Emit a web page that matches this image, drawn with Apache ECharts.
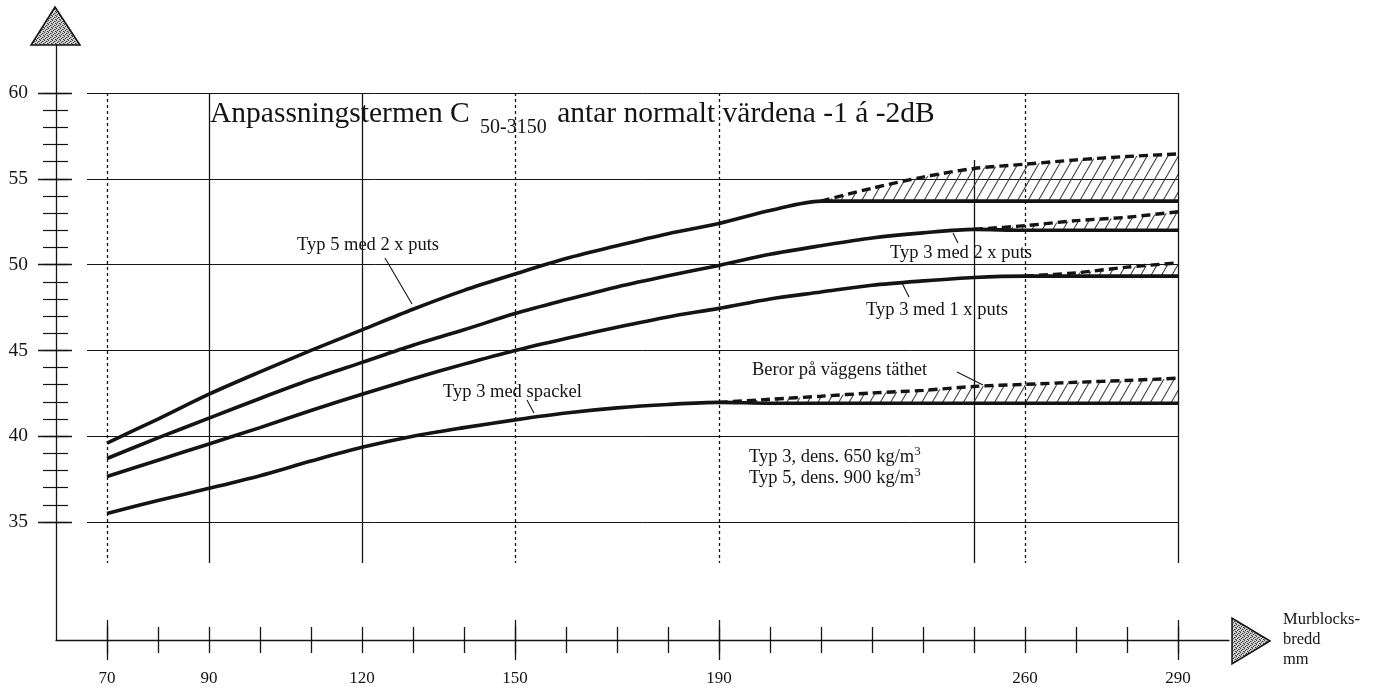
<!DOCTYPE html>
<html>
<head>
<meta charset="utf-8">
<script src="https://cdn.jsdelivr.net/npm/echarts@6/dist/echarts.min.js"></script>
<style>
    html, body { margin: 0; padding: 0; background: #fff; }
    #myEchartNode { width: 1388px; height: 689px; }
</style>
</head>
<body>
<div id="myEchartNode"></div>
<script>
; (function () {

    // murblockens bredd (mm) vid varje skalstreck, skalan hoppar mellan 240 och 260
    var widths = ['70', '80', '90', '100', '110', '120', '130', '140', '150', '160', '170',
        '180', '190', '200', '210', '220', '230', '240', '260', '270', '280', '290'];
    var axisWidths = [''].concat(widths, [' ']);
    var labelledWidths = ['70', '90', '120', '150', '190', '260', '290'];
    var solidGridWidths = ['90', '120', '290'];
    var dottedGridWidths = ['70', '150', '190', '260'];
    var shortGridWidths = ['240'];
    var longTickWidths = ['70', '150', '190', '290'];

    // dB-skalan
    var dbTicks = [35, 36, 37, 38, 39, 40, 41, 42, 43, 44, 45, 46, 47, 48, 49, 50,
        51, 52, 53, 54, 55, 56, 57, 58, 59, 60];
    var dbLabels = [35, 40, 45, 50, 55, 60];

    // kurvorna (heldragen = undre värde, streckad = övre värde)
    var typ5Puts2 = [39.6, 41.0, 42.45, 43.75, 45.0, 46.2, 47.4, 48.5, 49.45, 50.35, 51.1,
        51.8, 52.4, 53.15, 53.7, 53.7, 53.7, 53.7, 53.7, 53.7, 53.7, 53.7];
    var typ5Puts2Max = [null, null, null, null, null, null, null, null, null, null, null,
        null, null, null, 53.7, 54.45, 55.1, 55.6, 55.85, 56.1, 56.3, 56.45];
    var typ3Puts2 = [38.7, 39.9, 41.05, 42.2, 43.3, 44.3, 45.3, 46.2, 47.15, 47.95, 48.7,
        49.35, 49.95, 50.6, 51.1, 51.55, 51.85, 52.05, 52.0, 52.0, 52.0, 52.0];
    var typ3Puts2Max = [null, null, null, null, null, null, null, null, null, null, null,
        null, null, null, null, null, null, 52.05, 52.27, 52.56, 52.76, 53.08];
    var typ3Puts1 = [37.65, 38.6, 39.55, 40.5, 41.5, 42.44, 43.35, 44.2, 45.0, 45.7, 46.35,
        46.95, 47.45, 48.0, 48.4, 48.8, 49.05, 49.25, 49.33, 49.33, 49.33, 49.33];
    var typ3Puts1Max = [null, null, null, null, null, null, null, null, null, null, null,
        null, null, null, null, null, null, null, 49.33, 49.52, 49.85, 50.1];
    var typ3Spackel = [35.5, 36.25, 36.96, 37.7, 38.55, 39.35, 40.0, 40.5, 40.95, 41.35, 41.65,
        41.85, 41.97, 41.92, 41.92, 41.92, 41.92, 41.92, 41.92, 41.92, 41.92, 41.92];
    var typ3SpackelMax = [null, null, null, null, null, null, null, null, null, null, null,
        null, 41.97, 42.15, 42.33, 42.52, 42.67, 42.9, 43.02, 43.14, 43.25, 43.38];

    var serif = '"Liberation Serif", "DejaVu Serif", serif';
    var ink = '#141414';

    // prickig fyllning för pilarna
    var dots = document.createElement('canvas');
    dots.width = 4;
    dots.height = 4;
    var g = dots.getContext('2d');
    g.fillStyle = '#cfcfcf';
    g.fillRect(0, 0, 4, 4);
    g.fillStyle = '#3a3a3a';
    g.fillRect(0, 0, 1, 1);
    g.fillRect(2, 1, 1, 1);
    g.fillRect(1, 2, 1, 1);
    g.fillRect(3, 3, 1, 1);
    g.fillStyle = '#888';
    g.fillRect(3, 1, 1, 1);
    g.fillRect(0, 3, 1, 1);
    var dotFill = { type: 'pattern', image: dots, repeat: 'repeat' };

    function pick(list) {
        return function (idx, value) {
            return list.indexOf(value) !== -1;
        };
    }

    // skillnaden mellan övre och undre kurva, för staplingen
    function spread(upper, lower) {
        return upper.map(function (v, i) {
            return v === null ? null : +(v - lower[i]).toFixed(3);
        });
    }

    function gridAxis(list, offset, length, type) {
        return {
            gridIndex: 0,
            type: 'category',
            data: widths,
            boundaryGap: false,
            position: 'top',
            offset: offset,
            axisLine: { show: false },
            axisLabel: { show: false },
            splitLine: { show: false },
            axisTick: {
                show: true,
                inside: true,
                length: length,
                interval: pick(list),
                lineStyle: { color: ink, width: 1.3, type: type }
            }
        };
    }

    function tickAxis(values, offset, length, width) {
        return {
            gridIndex: 1,
            type: 'value',
            position: 'left',
            min: 28.12,
            max: 62.8,
            offset: offset,
            axisLine: { show: false },
            axisLabel: { show: false },
            splitLine: { show: false },
            axisTick: { show: true, customValues: values, length: length, lineStyle: { color: ink, width: width } }
        };
    }

    function curve(name, lower, upper) {
        return [
            {
                name: name,
                type: 'line',
                stack: name,
                data: lower,
                smooth: 0.3,
                symbol: 'none',
                z: 4,
                lineStyle: { color: ink, width: 3.6 }
            },
            {
                name: name + ' max',
                type: 'line',
                stack: name,
                data: spread(upper, lower),
                smooth: 0.3,
                symbol: 'none',
                z: 3,
                lineStyle: { color: ink, width: 3.4, type: [9, 5] },
                itemStyle: {
                    color: ink,
                    decal: {
                        symbol: 'rect',
                        symbolSize: 1,
                        color: '#333',
                        dashArrayX: [1, 0],
                        dashArrayY: [1, 8],
                        rotation: -Math.PI / 3
                    }
                },
                areaStyle: { color: 'rgba(255,255,255,0)', opacity: 1 }
            }
        ];
    }

    function note(text, x, y) {
        return {
            type: 'text',
            silent: true,
            style: {
                text: text,
                x: x,
                y: y,
                fill: ink,
                font: '18.5px ' + serif,
                verticalAlign: 'middle',
                rich: {
                    sup: { fontSize: 13, fontFamily: serif, fill: ink, padding: [0, 0, 10, 0] }
                }
            }
        };
    }

    function leader(x1, y1, x2, y2) {
        return {
            type: 'line',
            silent: true,
            shape: { x1: x1, y1: y1, x2: x2, y2: y2 },
            style: { stroke: ink, lineWidth: 1.1 }
        };
    }

    var myEchartObj = echarts.init(document.getElementById('myEchartNode'));
    var option = {
        backgroundColor: '#fff',
        animation: false,
        title: {
            text: '{a|Anpassningstermen C }{s|50-3150}{a| antar normalt värdena -1 á -2dB}',
            left: 205,
            top: 91,
            textStyle: {
                fontWeight: 'normal',
                rich: {
                    a: { fontSize: 29.5, fontFamily: serif, fontWeight: 'normal', color: ink, lineHeight: 36 },
                    s: { fontSize: 20, fontFamily: serif, fontWeight: 'normal', color: ink, lineHeight: 36, padding: [28, 3, 0, 3] }
                }
            }
        },
        grid: [
            { left: 107, right: 210, top: 93, bottom: 167 },
            { left: 56, right: 159, top: 45, bottom: 49 }
        ],
        xAxis: [
            { gridIndex: 0, type: 'category', data: widths, boundaryGap: false, show: false },
            gridAxis(solidGridWidths, 0, 470, 'solid'),
            gridAxis(dottedGridWidths, 0, 470, [3, 3]),
            gridAxis(shortGridWidths, -67, 403, 'solid'),
            {
                gridIndex: 1,
                type: 'category',
                data: axisWidths,
                boundaryGap: false,
                position: 'bottom',
                axisLine: { show: true, lineStyle: { color: ink, width: 1.3 } },
                axisTick: { show: false },
                splitLine: { show: false },
                axisLabel: {
                    interval: pick(labelledWidths),
                    margin: 30,
                    fontSize: 17,
                    fontFamily: serif,
                    color: ink
                },
                name: 'Murblocks-\nbredd\nmm',
                nameLocation: 'end',
                nameGap: 54,
                nameTextStyle: { align: 'left', fontSize: 16.5, lineHeight: 20, fontFamily: serif, color: ink }
            },
            {
                gridIndex: 1,
                type: 'category',
                data: axisWidths,
                boundaryGap: false,
                position: 'bottom',
                offset: -13,
                axisLine: { show: false },
                axisLabel: { show: false },
                splitLine: { show: false },
                axisTick: {
                    show: true,
                    length: 26,
                    interval: pick(widths),
                    lineStyle: { color: ink, width: 1.3 }
                }
            },
            {
                gridIndex: 1,
                type: 'category',
                data: axisWidths,
                boundaryGap: false,
                position: 'bottom',
                offset: -20,
                axisLine: { show: false },
                axisLabel: { show: false },
                splitLine: { show: false },
                axisTick: {
                    show: true,
                    length: 40,
                    interval: pick(longTickWidths),
                    lineStyle: { color: ink, width: 1.3 }
                }
            }
        ],
        yAxis: [
            {
                gridIndex: 0,
                type: 'value',
                position: 'left',
                min: 35,
                max: 60,
                interval: 5,
                axisLine: { show: false },
                axisLabel: { show: false },
                axisTick: { show: true, length: 20, lineStyle: { color: ink, width: 1 } },
                splitLine: { show: true, lineStyle: { color: ink, width: 1 } }
            },
            {
                gridIndex: 1,
                type: 'value',
                position: 'left',
                min: 28.12,
                max: 62.8,
                axisLine: { show: true, lineStyle: { color: ink, width: 1.3 } },
                axisTick: { show: false },
                splitLine: { show: false },
                axisLabel: {
                    customValues: dbLabels,
                    margin: 28,
                    fontSize: 19.5,
                    fontFamily: serif,
                    color: ink
                }
            },
            tickAxis(dbTicks, -12, 25, 1.2),
            tickAxis(dbLabels, -16, 34, 1.4)
        ],
        series: [].concat(
            curve('Typ 5 med 2 x puts', typ5Puts2, typ5Puts2Max),
            curve('Typ 3 med 2 x puts', typ3Puts2, typ3Puts2Max),
            curve('Typ 3 med 1 x puts', typ3Puts1, typ3Puts1Max),
            curve('Typ 3 med spackel', typ3Spackel, typ3SpackelMax)
        ),
        graphic: [
            { type: 'polygon', silent: true, shape: { points: [[55, 7], [31, 45], [80, 45]] },
                style: { fill: dotFill, stroke: ink, lineWidth: 1.5 } },
            { type: 'polygon', silent: true, shape: { points: [[1270, 641], [1232, 618], [1232, 664]] },
                style: { fill: dotFill, stroke: ink, lineWidth: 1.5 } },
            note('Typ 5 med 2 x puts', 297, 245),
            leader(385, 258, 412, 304),
            note('Typ 3 med 2 x puts', 890, 253),
            leader(953, 233, 958, 243),
            note('Typ 3 med 1 x puts', 866, 310),
            leader(902, 283, 909, 297),
            note('Beror på väggens täthet', 752, 370),
            leader(957, 372, 983, 385),
            note('Typ 3 med spackel', 443, 392),
            leader(527, 400, 534, 413),
            note('Typ 3, dens. 650 kg/m{sup|3}', 749, 457),
            note('Typ 5, dens. 900 kg/m{sup|3}', 749, 478)
        ]
    };

    myEchartObj.setOption(option);
})();
</script>
</body>
</html>
